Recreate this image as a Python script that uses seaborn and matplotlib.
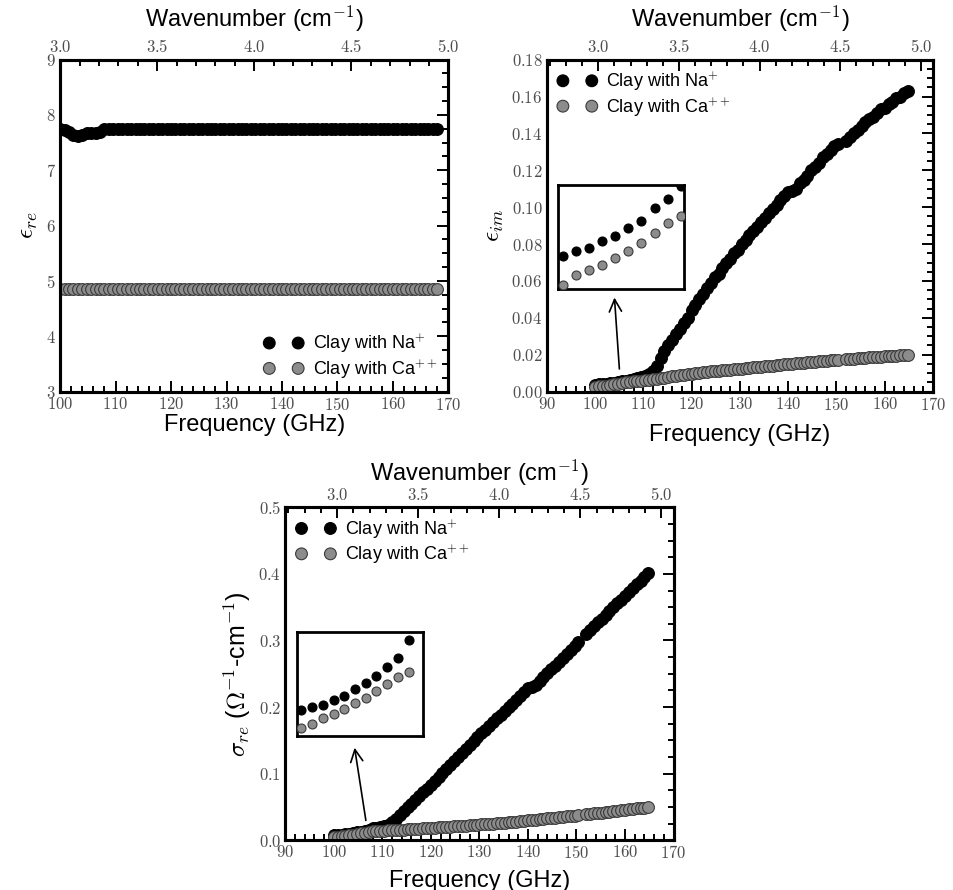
import seaborn as sns
import matplotlib.pyplot as plt
from matplotlib.ticker import MultipleLocator, AutoMinorLocator, FuncFormatter

# frequency grid of the real-permittivity scan (GHz)
freq_re = [
    100.0, 100.8, 101.6, 102.4, 103.2, 104.0, 104.8, 105.6, 106.4, 107.2,
    108.0, 108.8, 109.6, 110.4, 111.2, 112.0, 112.8, 113.6, 114.4, 115.2,
    116.0, 116.8, 117.6, 118.4, 119.2, 120.0, 120.8, 121.6, 122.4, 123.2,
    124.0, 124.8, 125.6, 126.4, 127.2, 128.0, 128.8, 129.6, 130.4, 131.2,
    132.0, 132.8, 133.6, 134.4, 135.2, 136.0, 136.8, 137.6, 138.4, 139.2,
    140.0, 140.8, 141.6, 142.4, 143.2, 144.0, 144.8, 145.6, 146.4, 147.2,
    148.0, 148.8, 149.6, 150.4, 151.2, 152.0, 152.8, 153.6, 154.4, 155.2,
    156.0, 156.8, 157.6, 158.4, 159.2, 160.0, 160.8, 161.6, 162.4, 163.2,
    164.0, 164.8, 165.6, 166.4, 167.2, 168.0,
]
eps_re_na = [
    7.75, 7.73, 7.69, 7.64, 7.62, 7.64, 7.68, 7.68, 7.68, 7.70,
    7.75, 7.75, 7.75, 7.75, 7.75, 7.75, 7.75, 7.75, 7.75, 7.75,
    7.75, 7.75, 7.75, 7.75, 7.75, 7.75, 7.75, 7.75, 7.75, 7.75,
    7.75, 7.75, 7.75, 7.75, 7.75, 7.75, 7.75, 7.75, 7.75, 7.75,
    7.75, 7.75, 7.75, 7.75, 7.75, 7.75, 7.75, 7.75, 7.75, 7.75,
    7.75, 7.75, 7.75, 7.75, 7.75, 7.75, 7.75, 7.75, 7.75, 7.75,
    7.75, 7.75, 7.75, 7.75, 7.75, 7.75, 7.75, 7.75, 7.75, 7.75,
    7.75, 7.75, 7.75, 7.75, 7.75, 7.75, 7.75, 7.75, 7.75, 7.75,
    7.75, 7.75, 7.75, 7.75, 7.75, 7.75,
]
eps_re_ca = [
    4.85, 4.85, 4.85, 4.85, 4.85, 4.85, 4.85, 4.85, 4.85, 4.85,
    4.85, 4.85, 4.85, 4.85, 4.85, 4.85, 4.85, 4.85, 4.85, 4.85,
    4.85, 4.85, 4.85, 4.85, 4.85, 4.85, 4.85, 4.85, 4.85, 4.85,
    4.85, 4.85, 4.85, 4.85, 4.85, 4.85, 4.85, 4.85, 4.85, 4.85,
    4.85, 4.85, 4.85, 4.85, 4.85, 4.85, 4.85, 4.85, 4.85, 4.85,
    4.85, 4.85, 4.85, 4.85, 4.85, 4.85, 4.85, 4.85, 4.85, 4.85,
    4.85, 4.85, 4.85, 4.85, 4.85, 4.85, 4.85, 4.85, 4.85, 4.85,
    4.85, 4.85, 4.85, 4.85, 4.85, 4.85, 4.85, 4.85, 4.85, 4.85,
    4.85, 4.85, 4.85, 4.85, 4.85, 4.85,
]

# frequency grid of the imaginary part / conductivity (GHz), one point missing near 151
freq_im = [
    100.0, 100.8, 101.6, 102.4, 103.2, 104.0, 104.8, 105.6, 106.4, 107.2,
    108.0, 108.8, 109.6, 110.4, 111.2,
    112.0, 112.8, 113.6, 114.4, 115.2, 116.0, 116.8, 117.6, 118.4, 119.2,
    120.0, 120.8, 121.6, 122.4, 123.2, 124.0, 124.8, 125.6, 126.4, 127.2,
    128.0, 128.8, 129.6, 130.4, 131.2, 132.0, 132.8, 133.6, 134.4, 135.2,
    136.0, 136.8, 137.6, 138.4, 139.2, 140.0, 140.8, 141.6, 142.4, 143.2,
    144.0, 144.8, 145.6, 146.4, 147.2, 148.0, 148.8, 149.6, 150.4,
    152.0, 152.8, 153.6, 154.4, 155.2, 156.0, 156.8, 157.6, 158.4, 159.2,
    160.0, 160.8, 161.6, 162.4, 163.2, 164.0, 164.8,
]
eps_im_na = [
    0.0037, 0.0039, 0.0040, 0.0043, 0.0045, 0.0048, 0.0051, 0.0056, 0.0060, 0.0065,
    0.0069, 0.0073, 0.0078, 0.0084, 0.0093,
    0.011, 0.014, 0.018, 0.022, 0.025, 0.028, 0.031, 0.034, 0.037, 0.040,
    0.044, 0.047, 0.050, 0.053, 0.056, 0.059, 0.062, 0.064, 0.067, 0.070,
    0.072, 0.075, 0.077, 0.080, 0.082, 0.085, 0.087, 0.089, 0.092, 0.094,
    0.097, 0.099, 0.101, 0.104, 0.106, 0.108, 0.109, 0.110, 0.113, 0.115,
    0.117, 0.120, 0.122, 0.124, 0.127, 0.129, 0.131, 0.133, 0.134,
    0.136, 0.138, 0.140, 0.142, 0.144, 0.146, 0.148, 0.149, 0.151, 0.153,
    0.154, 0.156, 0.157, 0.159, 0.160, 0.162, 0.163,
]
eps_im_ca = [
    0.0025, 0.0029, 0.0031, 0.0033, 0.0036, 0.0039, 0.0042, 0.0046, 0.0050, 0.0053,
    0.0055, 0.0057, 0.0059, 0.0061, 0.0063,
    0.0066, 0.0069, 0.0072, 0.0076, 0.0079, 0.0082, 0.0085, 0.0089, 0.0092, 0.0095,
    0.0098, 0.0100, 0.0102, 0.0104, 0.0107, 0.0109, 0.0111, 0.0113, 0.0115, 0.0117,
    0.0119, 0.0121, 0.0123, 0.0125, 0.0127, 0.0129, 0.0131, 0.0133, 0.0135, 0.0137,
    0.0139, 0.0141, 0.0143, 0.0145, 0.0147, 0.0149, 0.0151, 0.0153, 0.0154, 0.0156,
    0.0158, 0.0160, 0.0162, 0.0164, 0.0166, 0.0168, 0.0170, 0.0172, 0.0174,
    0.0176, 0.0177, 0.0179, 0.0180, 0.0182, 0.0183, 0.0185, 0.0186, 0.0188, 0.0189,
    0.0191, 0.0192, 0.0194, 0.0195, 0.0197, 0.0198, 0.0200,
]
sig_na = [
    0.0075, 0.0080, 0.0083, 0.0091, 0.0097, 0.0107, 0.0117, 0.0128, 0.0141, 0.0155,
    0.0182, 0.0190, 0.0200, 0.0212, 0.0235,
    0.027, 0.032, 0.038, 0.044, 0.050, 0.055, 0.061, 0.067, 0.072, 0.077,
    0.083, 0.089, 0.095, 0.101, 0.107, 0.113, 0.119, 0.125, 0.131, 0.137,
    0.143, 0.149, 0.155, 0.161, 0.166, 0.172, 0.177, 0.183, 0.188, 0.194,
    0.200, 0.205, 0.211, 0.217, 0.222, 0.228, 0.230, 0.233, 0.239, 0.245,
    0.251, 0.257, 0.262, 0.268, 0.274, 0.280, 0.286, 0.292, 0.297,
    0.309, 0.315, 0.321, 0.327, 0.332, 0.338, 0.344, 0.350, 0.356, 0.361,
    0.367, 0.373, 0.379, 0.385, 0.390, 0.396, 0.402,
]
sig_ca = [
    0.0047, 0.0054, 0.0062, 0.0069, 0.0077, 0.0085, 0.0094, 0.0104, 0.0115, 0.0125,
    0.0134, 0.0138, 0.0141, 0.0144, 0.0147,
    0.0150, 0.0153, 0.0157, 0.0160, 0.0163, 0.0167, 0.0170, 0.0173, 0.0177, 0.0180,
    0.0184, 0.0188, 0.0192, 0.0196, 0.0200, 0.0204, 0.0208, 0.0212, 0.0216, 0.0220,
    0.0224, 0.0228, 0.0232, 0.0236, 0.0240, 0.0244, 0.0248, 0.0252, 0.0256, 0.0260,
    0.0266, 0.0272, 0.0278, 0.0284, 0.0290, 0.0296, 0.0302, 0.0308, 0.0314, 0.0320,
    0.0326, 0.0332, 0.0338, 0.0344, 0.0350, 0.0356, 0.0362, 0.0368, 0.0374,
    0.0388, 0.0395, 0.0402, 0.0408, 0.0415, 0.0422, 0.0429, 0.0436, 0.0442, 0.0449,
    0.0456, 0.0463, 0.0470, 0.0476, 0.0483, 0.0490, 0.0497,
]

label_na = "Clay with Na$^{+}$"
label_ca = "Clay with Ca$^{++}$"

sns.set_style("white")
plt.rcParams['font.family'] = ['Liberation Sans', 'DejaVu Sans']
plt.rcParams['mathtext.fontset'] = 'cm'
plt.rcParams['text.color'] = 'black'
plt.rcParams['axes.labelcolor'] = 'black'
plt.rcParams['axes.edgecolor'] = 'black'
plt.rcParams['xtick.color'] = 'black'
plt.rcParams['ytick.color'] = 'black'

NA_COLOR = "black"
CA_COLOR = "#8c8c8c"
CA_EDGE = "#3a3a3a"
MS = 72
MS_IN = 42


def tex_fmt(dec):
    return FuncFormatter(lambda v, p: f"${v:.{dec}f}$")


def tick_style(ax):
    ax.tick_params(which='both', direction='in', width=1.4, labelsize=12,
                   labelcolor='0.3', pad=3, color='black')
    ax.tick_params(which='major', length=8)
    ax.tick_params(which='minor', length=4)


def setup(ax, xlim, ylim, ymaj, ydec, top_lim, ylabel, xpad, tpad):
    ax.set_xlim(*xlim)
    ax.set_ylim(*ylim)
    ax.xaxis.set_major_locator(MultipleLocator(10))
    ax.xaxis.set_minor_locator(AutoMinorLocator(5))
    ax.yaxis.set_major_locator(MultipleLocator(ymaj))
    ax.yaxis.set_minor_locator(AutoMinorLocator(4))
    ax.xaxis.set_major_formatter(tex_fmt(0))
    ax.yaxis.set_major_formatter(tex_fmt(ydec))
    tick_style(ax)
    ax.tick_params(which='both', right=True, top=False)
    for s in ax.spines.values():
        s.set_linewidth(2.2)
        s.set_color("black")
    ax.set_xlabel("Frequency (GHz)", fontsize=17, labelpad=xpad)
    ax.set_ylabel(ylabel, fontsize=18)

    top = ax.twiny()
    top.set_xlim(*top_lim)
    top.xaxis.set_major_locator(MultipleLocator(0.5))
    top.xaxis.set_minor_locator(AutoMinorLocator(5))
    top.xaxis.set_major_formatter(tex_fmt(1))
    tick_style(top)
    for s in top.spines.values():
        s.set_linewidth(2.2)
        s.set_color("black")
    top.set_xlabel("Wavenumber (cm$^{-1}$)", fontsize=17, labelpad=tpad)
    return top


def draw(ax, x, y_na, y_ca, size, legend=True):
    sns.scatterplot(x=x, y=y_na, color=NA_COLOR, edgecolor=NA_COLOR, s=size,
                    linewidth=0.8, label=label_na if legend else None,
                    legend=False, ax=ax, zorder=3)
    sns.scatterplot(x=x, y=y_ca, color=CA_COLOR, edgecolor=CA_EDGE, s=size,
                    linewidth=0.8, label=label_ca if legend else None,
                    legend=False, ax=ax, zorder=4)


def inset(fig, rect, x, y_na, y_ca, xlim, ylim):
    axi = fig.add_axes(rect)
    draw(axi, x, y_na, y_ca, MS_IN, legend=False)
    axi.set_xlim(*xlim)
    axi.set_ylim(*ylim)
    axi.set_xticks([])
    axi.set_yticks([])
    axi.set_xlabel("")
    axi.set_ylabel("")
    for s in axi.spines.values():
        s.set_linewidth(2.0)
        s.set_color("black")
    return axi


def add_legend(ax, loc, anchor):
    ax.legend(loc=loc, bbox_to_anchor=anchor, frameon=False, fontsize=13,
              scatterpoints=2, scatteryoffsets=[0.5], handlelength=2.2,
              handletextpad=0.5, labelspacing=0.15, borderaxespad=0.2)


fig = plt.figure(figsize=(9.54, 8.90), dpi=100)

# top-left: real permittivity
ax1 = fig.add_axes([0.063, 0.560, 0.407, 0.373])
draw(ax1, freq_re, eps_re_na, eps_re_ca, MS)
setup(ax1, (100, 170), (3, 9), 1, 0, (3.0, 5.0), r"$\epsilon_{re}$", 1, 8)
add_legend(ax1, "lower right", (1.0, 0.0))

# top-right: imaginary permittivity
ax2 = fig.add_axes([0.573, 0.560, 0.405, 0.373])
draw(ax2, freq_im, eps_im_na, eps_im_ca, MS)
setup(ax2, (90, 170), (0, 0.18), 0.02, 2, (2.68, 5.075), r"$\epsilon_{im}$", 8, 8)
add_legend(ax2, "upper left", (0.0, 1.0))
ax2.annotate("", xy=(104.0, 0.0525), xytext=(105.1, 0.0108),
             arrowprops=dict(arrowstyle="->", color="black", lw=1.2,
                             mutation_scale=22))
inset(fig, [0.585, 0.675, 0.132, 0.117], freq_im[:10], eps_im_na[:10],
      eps_im_ca[:10], (99.7, 107.4), (0.00234, 0.00654))

# bottom: conductivity
ax3 = fig.add_axes([0.299, 0.056, 0.407, 0.374])
draw(ax3, freq_im, sig_na, sig_ca, MS)
setup(ax3, (90, 170), (0, 0.5), 0.1, 1, (2.68, 5.075),
      r"$\sigma_{re}$ ($\Omega^{-1}$-cm$^{-1}$)", 6, 4)
add_legend(ax3, "upper left", (0.0, 1.0))
ax3.annotate("", xy=(104.2, 0.143), xytext=(106.7, 0.0255),
             arrowprops=dict(arrowstyle="->", color="black", lw=1.2,
                             mutation_scale=22))
inset(fig, [0.311, 0.173, 0.132, 0.117], freq_im[:11], sig_na[:11],
      sig_ca[:11], (99.65, 109.05), (0.0035, 0.0195))

fig.savefig("out.png", dpi=100)
